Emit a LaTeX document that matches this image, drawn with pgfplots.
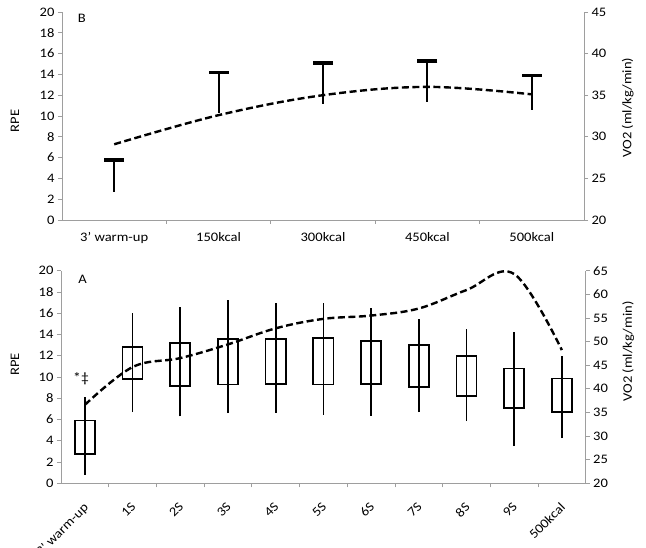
\documentclass[border=0pt]{standalone}
\usepackage{fontspec}
\setmainfont{Carlito}[FakeStretch=1.12]
\usepackage{pgfplots}
\usepackage{pgfplotstable}
\usepgfplotslibrary{statistics}
\pgfplotsset{compat=1.18}
\definecolor{axisgray}{RGB}{158,158,158}

% Panel B: RPE at each stage (top value and lower end) and mean VO2
\pgfplotstableread{
x top lo
0 5.75 2.7
1 14.2 10.3
2 15.1 11.15
3 15.3 11.3
4 13.9 10.6
}\rpeB
\pgfplotstableread{
x vo
0 29.1
1 32.6
2 35.0
3 36.0
4 35.1
}\voB

% Panel A: RPE range (lo, hi) and mean VO2; boxes (q1, q3) are drawn below
\pgfplotstableread{
x lo hi
0 0.8 8.15
1 6.7 16.05
2 6.3 16.55
3 6.6 17.2
4 6.65 16.95
5 6.45 17.0
6 6.35 16.45
7 6.7 15.45
8 5.85 14.5
9 3.5 14.25
10 4.25 12.0
}\rpeA
\pgfplotstableread{
x vo
0 36.6
1 44.6
2 46.5
3 49.4
4 52.8
5 54.8
6 55.5
7 57.0
8 60.9
9 64.3
10 48.2
}\voA

% one box from q1 to q3 at a given position
\newcommand{\rbox}[3]{%
  \addplot[draw=black, line width=1.7pt, fill=none, solid,
    boxplot/draw direction=y,
    boxplot prepared={draw position=#1,
      lower whisker=#2, lower quartile=#2, median=#2,
      upper quartile=#3, upper whisker=#3}] coordinates {};}

\pgfplotsset{
  panel/.style={
    scale only axis,
    anchor=south west,
    tick align=outside,
    major tick length=4pt,
    minor tick length=4pt,
    tick style={axisgray, line width=0.8pt},
    axis line style={axisgray, line width=0.8pt, -},
    /pgf/number format/assume math mode=true,
    tick label style={font=\fontsize{13}{15}\selectfont, black},
    label style={font=\fontsize{13}{15}\selectfont},
    clip=false,
  },
  leftside/.style={
    axis x line*=bottom, axis y line*=left,
    ymin=0, ymax=20, ytick={0,2,...,20},
    ylabel={RPE},
  },
  rightside/.style={
    axis x line=none, axis y line*=right,
    ylabel={VO2 (ml/kg/min)},
  },
  vodash/.style={black, line width=2.4pt, dash pattern=on 7pt off 3.5pt, smooth, tension=0.6, mark=none},
}

\begin{document}
\begin{tikzpicture}
\path[use as bounding box] (0pt,0pt) rectangle (646pt,548pt);

% ---------------- Panel B ----------------
\begin{axis}[panel, leftside,
  at={(62pt,328pt)}, width=522pt, height=208pt,
  xmin=-0.5, xmax=4.5,
  xtick={0,...,4},
  xticklabels={3' warm-up,150kcal,300kcal,450kcal,500kcal},
  major x tick style={draw=none},
  minor xtick={0.5,1.5,2.5,3.5},
  xticklabel style={yshift=-5pt},
  ylabel style={at={(axis description cs:-0.09,0.476)}, anchor=center, rotate=0},
]
\addplot[draw=none, mark=none, error bars/.cd, y dir=minus, y explicit,
  error mark=none, error bar style={draw=black, solid, line width=1.8pt}]
  table[x=x, y=top, y error expr=\thisrow{top}-\thisrow{lo}] {\rpeB};
\addplot[only marks, mark=-, mark size=10pt, mark options={black, line width=3.4pt}]
  table[x=x, y=top] {\rpeB};
\node[font=\fontsize{13}{15}\selectfont] at (axis description cs:0.038,0.97) {B};
\end{axis}

\begin{axis}[panel, rightside,
  at={(62pt,328pt)}, width=522pt, height=208pt,
  xmin=-0.5, xmax=4.5,
  ymin=20, ymax=45, ytick={20,25,...,45},
  ylabel style={at={(axis description cs:1.084,0.54)}, anchor=center, rotate=0},
]
\addplot[vodash] table[x=x, y=vo] {\voB};
\end{axis}

% ---------------- Panel A ----------------
\begin{axis}[panel, leftside,
  at={(61pt,64.7pt)}, width=524.7pt, height=212.6pt,
  xmin=-0.5, xmax=10.5,
  xtick={0,...,10},
  xticklabels={3' warm-up,1S,2S,3S,4S,5S,6S,7S,8S,9S,500kcal},
  major x tick style={draw=none},
  minor xtick={0.5,1.5,...,9.5},
  xticklabel style={rotate=45, anchor=north east, xshift=-8.3pt, yshift=-5.2pt},
  ylabel style={at={(axis description cs:-0.0877,0.56)}, anchor=center, rotate=0},
  boxplot/box extend=0.42,
  boxplot/whisker extend=0,
]
\addplot[draw=none, mark=none, error bars/.cd, y dir=plus, y explicit,
  error mark=none, error bar style={draw=black, solid, line width=1.7pt}]
  table[x=x, y=lo, y error expr=\thisrow{hi}-\thisrow{lo}] {\rpeA};
\rbox{0}{2.75}{5.9}
\rbox{1}{9.8}{12.85}
\rbox{2}{9.15}{13.2}
\rbox{3}{9.3}{13.55}
\rbox{4}{9.35}{13.55}
\rbox{5}{9.3}{13.7}
\rbox{6}{9.35}{13.4}
\rbox{7}{9.05}{13.0}
\rbox{8}{8.2}{12.0}
\rbox{9}{7.1}{10.8}
\rbox{10}{6.7}{9.85}
\node[font=\fontsize{13}{15}\selectfont] at (axis description cs:0.041,0.959) {A};
\node[font=\fontsize{14}{16}\selectfont] at (axis cs:-0.08,9.8) {*‡};
\end{axis}

\begin{axis}[panel, rightside,
  at={(61pt,64.7pt)}, width=524.7pt, height=212.6pt,
  xmin=-0.5, xmax=10.5,
  ymin=20, ymax=65, ytick={20,25,...,65},
  ylabel style={at={(axis description cs:1.081,0.62)}, anchor=center, rotate=0},
]
\addplot[vodash] table[x=x, y=vo] {\voA};
\end{axis}
\end{tikzpicture}
\end{document}
